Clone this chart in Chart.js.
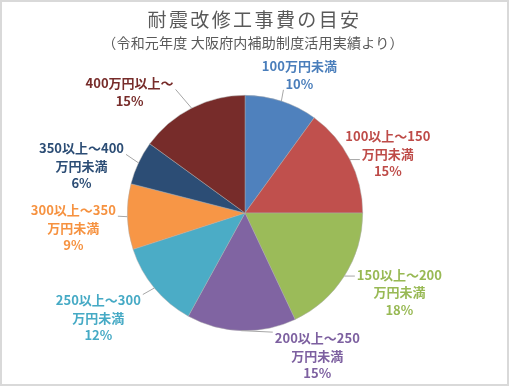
<!DOCTYPE html>
<html><head><meta charset="utf-8">
<script src="https://cdn.jsdelivr.net/npm/chart.js@4"></script>
<style>html,body{margin:0;padding:0;background:#fff}#wrap{width:509px;height:386px;position:relative}</style>
</head><body><div id="wrap"><canvas id="c" width="509" height="386"></canvas></div>
<script>
const titleText = '耐震改修工事費の目安';
const subtitleText = '（令和元年度 大阪府内補助制度活用実績より）';
const categories = ['100万円未満', '100以上～150万円未満', '150以上～200万円未満', '200以上～250万円未満',
  '250以上～300万円未満', '300以上～350万円未満', '350以上～400万円未満', '400万円以上～'];
const labelLines = [['100万円未満'], ['100以上～150', '万円未満'], ['150以上～200', '万円未満'], ['200以上～250', '万円未満'],
  ['250以上～300', '万円未満'], ['300以上～350', '万円未満'], ['350以上～400', '万円未満'], ['400万円以上～']];
const shares = [10, 15, 18, 15, 12, 9, 6, 15];
const sliceColors = ['#4F81BD', '#C0504D', '#9BBB59', '#8064A2', '#4BACC6', '#F79646', '#2C4D75', '#772C2A'];
const labelColors = ['#4A7EBB', '#BE4B48', '#98B954', '#7D60A0', '#46AAC5', '#F69240', '#2C4D75', '#772C2A'];
// label block offsets (px) from the slice's outer mid point
const labelNudge = [[18, -26], [38, -6], [55, 16], [76, 25], [-56, 30], [-54, 11], [-57, 3], [-62, -16]];

const FONT = '"Noto Sans CJK JP", "Noto Sans", sans-serif';

const overlay = {
  id: 'overlay',
  afterDraw(chart) {
    const ctx = chart.ctx;
    ctx.save();
    // frame
    ctx.strokeStyle = '#d9d9d9';
    ctx.lineWidth = 2;
    ctx.strokeRect(1, 1, 507, 384);
    // title
    ctx.fillStyle = '#595959';
    ctx.textAlign = 'center';
    ctx.textBaseline = 'middle';
    ctx.font = 'normal 19px ' + FONT;
    ctx.letterSpacing = '2.4px';
    ctx.fillText(titleText, 254.5, 20);
    ctx.letterSpacing = '0.2px';
    ctx.font = 'normal 14px ' + FONT;
    ctx.fillText(subtitleText, 253, 43);
    ctx.letterSpacing = '0px';

    // labels
    const meta = chart.getDatasetMeta(0);
    const lh = 17.5;
    ctx.font = 'bold 13px ' + FONT;
    meta.data.forEach((arc, i) => {
      const p = arc.getProps(['x', 'y', 'startAngle', 'endAngle', 'outerRadius'], true);
      const mid = (p.startAngle + p.endAngle) / 2;
      const ex = p.x + Math.cos(mid) * p.outerRadius;
      const ey = p.y + Math.sin(mid) * p.outerRadius;
      const lines = labelLines[i].concat([shares[i] + '%']);
      const cx = ex + labelNudge[i][0];
      const cy = ey + labelNudge[i][1];
      const top = cy - (lines.length - 1) * lh / 2;
      let best = null;
      lines.forEach((t, k) => {
        const w = ctx.measureText(t).width;
        const ly = top + k * lh;
        const b = { l: cx - w / 2 - 2, r: cx + w / 2 + 2, t: ly - 6, b: ly + 6 };
        const qx = Math.min(Math.max(ex, b.l), b.r);
        const qy = Math.min(Math.max(ey, b.t), b.b);
        const d = Math.hypot(qx - ex, qy - ey);
        if (!best || d < best.d) best = { d, qx, qy };
      });
      if (best && best.d > 3) {
        ctx.strokeStyle = '#a6a6a6';
        ctx.lineWidth = 1;
        ctx.beginPath();
        ctx.moveTo(ex, ey);
        ctx.lineTo(best.qx, best.qy);
        ctx.stroke();
      }
      ctx.fillStyle = labelColors[i];
      lines.forEach((t, k) => ctx.fillText(t, cx, top + k * lh));
    });
    ctx.restore();
  }
};

new Chart(document.getElementById('c'), {
  type: 'pie',
  data: {
    labels: categories,
    datasets: [{
      data: shares,
      backgroundColor: sliceColors,
      borderColor: 'rgba(170,170,170,0.8)',
      borderWidth: 0.6
    }]
  },
  options: {
    responsive: false,
    animation: false,
    layout: { padding: { top: 95, bottom: 55, left: 100, right: 119 } },
    plugins: { legend: { display: false }, tooltip: { enabled: false }, title: { display: false } }
  },
  plugins: [overlay]
});
</script>
</body></html>
